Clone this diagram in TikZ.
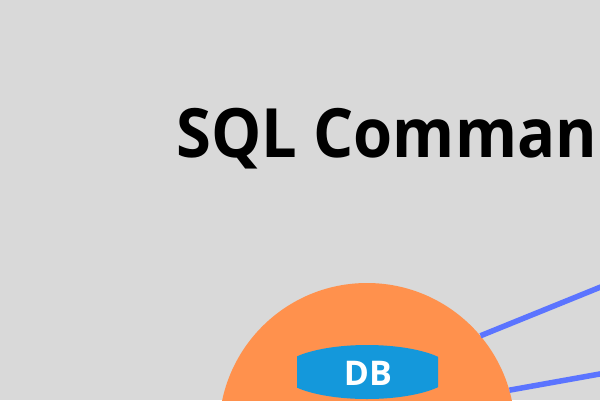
\documentclass[tikz,border=0pt]{standalone}
\usepackage{graphicx}
\usepackage{fontspec}
\setmainfont{Open Sans}
\usetikzlibrary{shapes.geometric}
\definecolor{bggray}{HTML}{D9D9D9}
\definecolor{dborange}{HTML}{FF914D}
\definecolor{dbblue}{HTML}{1498DB}
\definecolor{linkblue}{HTML}{5B74FF}
\begin{document}
\begin{tikzpicture}[
    x=1pt, y=-1pt,
    title/.style={font=\fontsize{68}{80}\selectfont\bfseries, inner sep=0pt, anchor=base west},
    dbdisk/.style={circle, fill=dborange, minimum size=296pt, inner sep=0pt},
    dbkey/.style={ellipse, fill=dbblue, minimum width=172pt, minimum height=54pt, inner sep=0pt},
    dblabel/.style={font=\fontsize{34}{40}\selectfont\bfseries, text=white, inner sep=0pt},
    link/.style={linkblue, line width=5.5pt}
]
    \fill[bggray] (0,0) rectangle (600,400);
    \useasboundingbox (0,0) rectangle (600,400);
    \clip (0,0) rectangle (600,400);

    \node[title] (heading) at (176,157) {\scalebox{0.93}[1]{SQL Comman}};

    \coordinate (far1) at (650,267);
    \coordinate (far2) at (650,365);

    \node[dbdisk] (disk) at (367,431) {};
    \draw[link] (disk.40.6) -- (far1);
    \draw[link] (disk.16.2) -- (far2);

    \begin{scope}
        \clip (297,330) rectangle (438,400);
        \node[dbkey] (key) at (367,372) {};
    \end{scope}
    \node[dblabel] (dbtext) at (368,373) {DB};
\end{tikzpicture}
\end{document}
